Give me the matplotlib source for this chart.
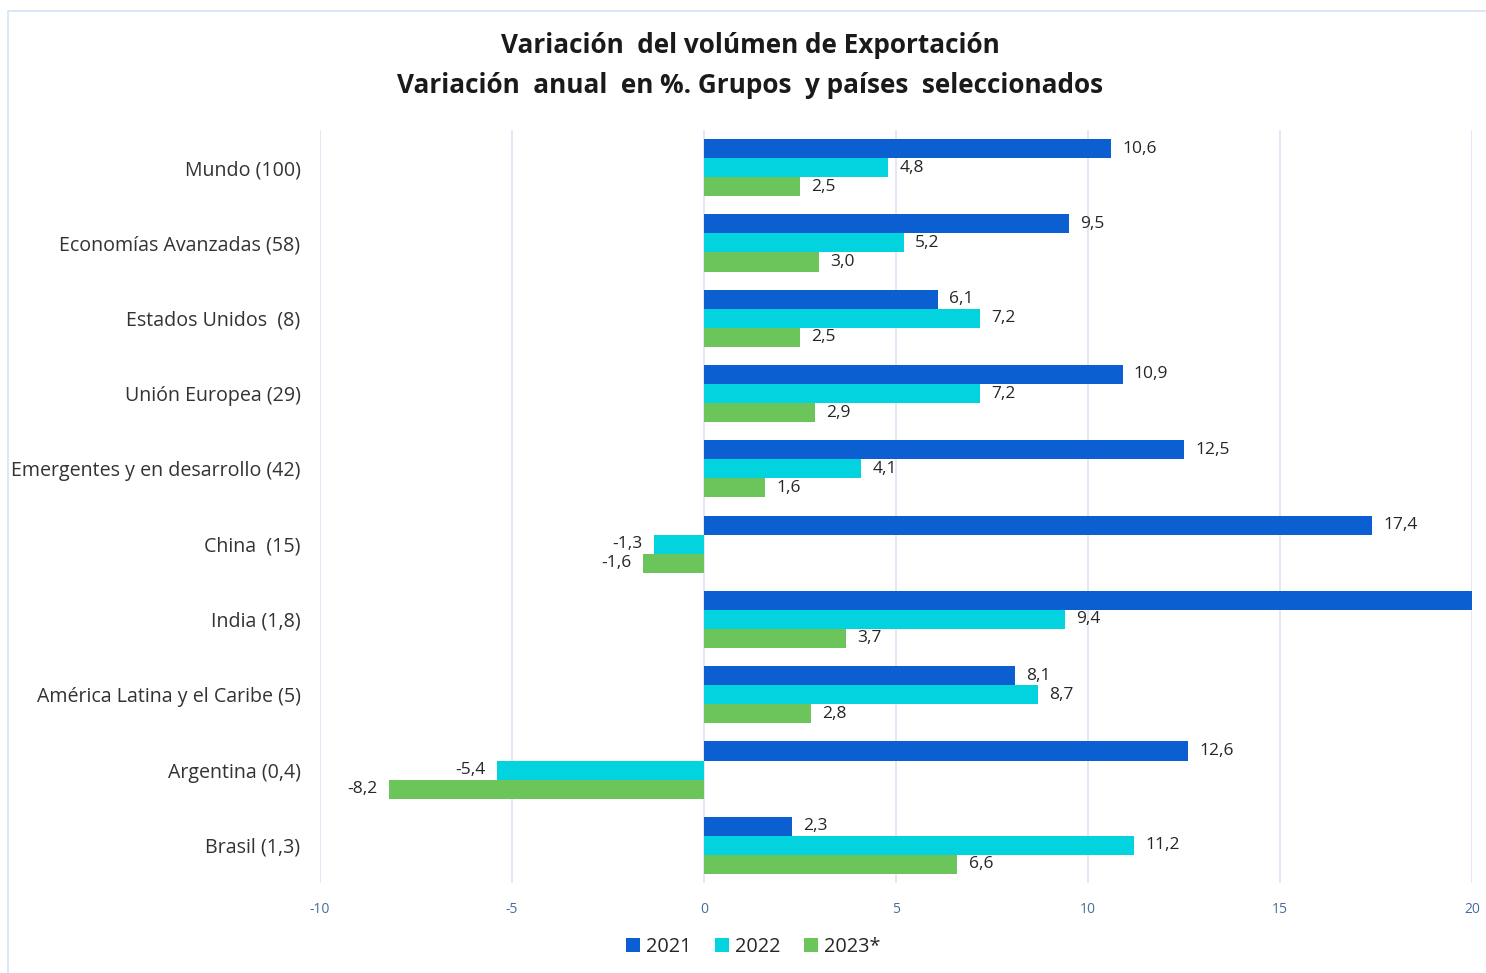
import matplotlib.pyplot as plt
import numpy as np
from matplotlib.patches import Rectangle

categorias = ["Mundo (100)", "Economías Avanzadas (58)", "Estados Unidos  (8)",
              "Unión Europea (29)", "Emergentes y en desarrollo (42)", "China  (15)",
              "India (1,8)", "América Latina y el Caribe (5)", "Argentina (0,4)", "Brasil (1,3)"]
v2021 = [10.6, 9.5, 6.1, 10.9, 12.5, 17.4, 20.0, 8.1, 12.6, 2.3]
v2022 = [4.8, 5.2, 7.2, 7.2, 4.1, -1.3, 9.4, 8.7, -5.4, 11.2]
v2023 = [2.5, 3.0, 2.5, 2.9, 1.6, -1.6, 3.7, 2.8, -8.2, 6.6]
series = ["2021", "2022", "2023*"]
colores = ["#0b5fd1", "#02d3df", "#6cc55b"]

plt.rcParams['font.family'] = ['Open Sans', 'DejaVu Sans']
plt.rcParams['axes.unicode_minus'] = False

fig = plt.figure(figsize=(14.86, 9.73), dpi=100)
ax = fig.add_axes([0.2153, 0.0925, 0.7753, 0.7739])

# borde del gráfico
fig.patches.append(Rectangle((8 / 1486, -0.01), 1.02, 1 - 11 / 973 + 0.01,
                             transform=fig.transFigure, fill=False,
                             edgecolor="#d6e3f5", linewidth=1.2))

y = np.arange(len(categorias))
alto = 0.253
xmin, xmax = -10, 20

for i, (vals, col, nom) in enumerate(zip([v2021, v2022, v2023], colores, series)):
    pos = y + (i - 1) * alto
    ax.barh(pos, vals, height=alto, color=col, label=nom, zorder=3)
    for p, v in zip(pos, vals):
        if v >= xmax:
            continue
        txt = f"{v:.1f}".replace(".", ",")
        if v >= 0:
            ax.annotate(txt, (v, p), xytext=(8, 0), textcoords="offset points",
                        ha="left", va="center", fontsize=12.5, color="#262626")
        else:
            ax.annotate(txt, (v, p), xytext=(-8, 0), textcoords="offset points",
                        ha="right", va="center", fontsize=12.5, color="#262626")

ax.set_xlim(xmin, xmax)
ax.set_ylim(len(categorias) - 0.5, -0.5)
ax.set_xticks([-10, -5, 0, 5, 10, 15, 20])
ax.set_yticks(y)
ax.set_yticklabels(categorias, fontsize=14.1, color="#333333")
ax.tick_params(axis="x", length=0, labelsize=10, labelcolor="#4a6c9b", pad=14)
ax.tick_params(axis="y", length=0, pad=14)
ax.grid(axis="x", color="#d9e5f6", linewidth=1.2, zorder=0)
for s in ax.spines.values():
    s.set_visible(False)

fig.text(0.505, 0.953, "Variación  del volúmen de Exportación", ha="center", va="center",
         fontsize=18.8, fontweight="bold", color="#1a1a1a")
fig.text(0.505, 0.912, "Variación  anual  en %. Grupos  y países  seleccionados", ha="center",
         va="center", fontsize=18.8, fontweight="bold", color="#1a1a1a")

fig.legend(loc="center", bbox_to_anchor=(0.507, 0.027), ncol=3, frameon=False,
           fontsize=14.3, handlelength=0.7, handleheight=0.7, handletextpad=0.3,
           columnspacing=1.2, labelcolor="#262626")

fig.savefig("out.png", dpi=100)
